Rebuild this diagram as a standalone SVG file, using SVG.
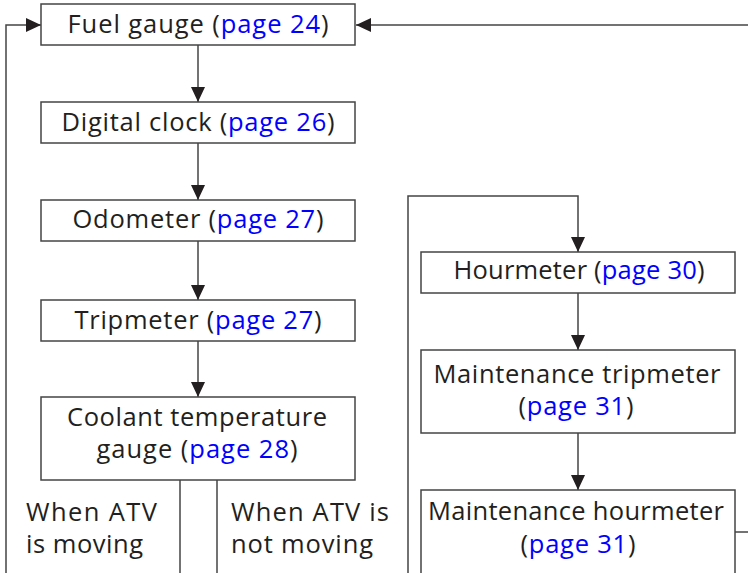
<svg xmlns="http://www.w3.org/2000/svg" width="748" height="573" viewBox="0 0 748 573">
<defs>
<marker id="ah" markerWidth="15" markerHeight="14" refX="15" refY="7" orient="auto" markerUnits="userSpaceOnUse">
<path d="M0,0 L15,7 L0,14 Z" fill="#231f20"/>
</marker>
<style>
.box{fill:#fff;stroke:#444;stroke-width:1.5}
.ln{fill:none;stroke:#444;stroke-width:1.5}
.t{font-family:"Open Sans","Noto Sans","DejaVu Sans",sans-serif;font-size:25.5px;fill:#231f20}
.c{text-anchor:middle}
.lk{fill:#0000ff}
</style>
</defs>
<rect width="748" height="573" fill="#fff"/>
<g id="connectors">
<line class="ln" x1="198" y1="45" x2="198" y2="102" marker-end="url(#ah)"/>
<line class="ln" x1="198" y1="143" x2="198" y2="200" marker-end="url(#ah)"/>
<line class="ln" x1="198" y1="241" x2="198" y2="300" marker-end="url(#ah)"/>
<line class="ln" x1="198" y1="341" x2="198" y2="397" marker-end="url(#ah)"/>
<polyline class="ln" points="6,573 6,25 41,25" marker-end="url(#ah)"/>
<line class="ln" x1="748" y1="25" x2="356" y2="25" marker-end="url(#ah)"/>
<line class="ln" x1="180" y1="480" x2="180" y2="573"/>
<line class="ln" x1="217" y1="480" x2="217" y2="573"/>
<polyline class="ln" points="408,573 408,196 578,196 578,252" marker-end="url(#ah)"/>
<line class="ln" x1="578" y1="293" x2="578" y2="350" marker-end="url(#ah)"/>
<line class="ln" x1="578" y1="433" x2="578" y2="490" marker-end="url(#ah)"/>
<line class="ln" x1="735" y1="532" x2="748" y2="532"/>
</g>
<g id="fuel">
<rect class="box" x="41" y="4" width="314" height="41"/>
<text class="t c" x="198" y="33" textLength="261">Fuel gauge (<tspan class="lk">page 24</tspan>)</text>
</g>
<g id="clock">
<rect class="box" x="41" y="102" width="314" height="41"/>
<text class="t c" x="198" y="131" textLength="273">Digital clock (<tspan class="lk">page 26</tspan>)</text>
</g>
<g id="odometer">
<rect class="box" x="41" y="200" width="314" height="41"/>
<text class="t c" x="198" y="228" textLength="251">Odometer (<tspan class="lk">page 27</tspan>)</text>
</g>
<g id="tripmeter">
<rect class="box" x="41" y="300" width="314" height="41"/>
<text class="t c" x="198" y="329" textLength="247">Tripmeter (<tspan class="lk">page 27</tspan>)</text>
</g>
<g id="coolant">
<rect class="box" x="41" y="397" width="314" height="83"/>
<text class="t c" x="197" y="426" textLength="260">Coolant temperature</text>
<text class="t c" x="197" y="458" textLength="201">gauge (<tspan class="lk">page 28</tspan>)</text>
</g>
<g id="label-moving">
<text class="t" x="26" y="521" textLength="131">When ATV</text>
<text class="t" x="26" y="553" textLength="117">is moving</text>
</g>
<g id="label-not-moving">
<text class="t" x="231" y="521" textLength="158">When ATV is</text>
<text class="t" x="231" y="553" textLength="142">not moving</text>
</g>
<g id="hourmeter">
<rect class="box" x="421" y="252" width="314" height="41"/>
<text class="t c" x="579" y="279" textLength="251">Hourmeter (<tspan class="lk">page 30</tspan>)</text>
</g>
<g id="maint-trip">
<rect class="box" x="421" y="350" width="314" height="83"/>
<text class="t c" x="577" y="383" textLength="287">Maintenance tripmeter</text>
<text class="t c" x="576" y="415" textLength="115">(<tspan class="lk">page 31</tspan>)</text>
</g>
<g id="maint-hour">
<rect class="box" x="421" y="490" width="314" height="90"/>
<text class="t c" x="576" y="520" textLength="296">Maintenance hourmeter</text>
<text class="t c" x="578" y="553" textLength="115">(<tspan class="lk">page 31</tspan>)</text>
</g>
</svg>
